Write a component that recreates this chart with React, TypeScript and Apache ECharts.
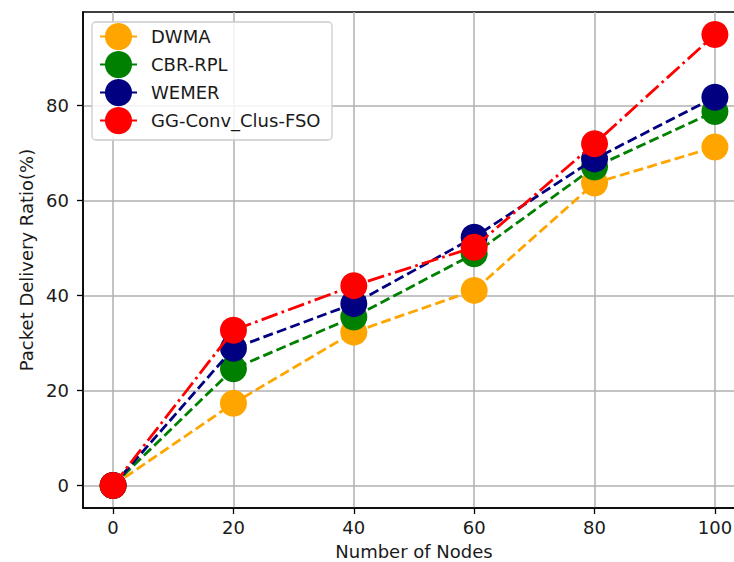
import React, { useEffect, useRef } from "react";
import * as echarts from "echarts";

const nodes = [0, 20, 40, 60, 80, 100];
const seriesNames = ["DWMA", "CBR-RPL", "WEMER", "GG-Conv_Clus-FSO"];
const dwma = [0, 17.3, 32.3, 41.1, 63.7, 71.3];
const cbrRpl = [0, 24.6, 35.5, 48.8, 67.1, 78.8];
const wemer = [0, 28.9, 38.3, 52.3, 68.8, 81.8];
const ggConv = [0, 32.7, 42.1, 50.2, 72, 95];
const xTicks = [0, 20, 40, 60, 80, 100];
const yTicks = [0, 20, 40, 60, 80];

const colors = ["#FFA500", "#008000", "#000080", "#FF0000"];
const FONT = "DejaVu Sans";

export default function App() {
  const ref = useRef<HTMLDivElement>(null);
  useEffect(() => {
    if (!ref.current) return;
    const chart = echarts.init(ref.current, null, { renderer: "svg" });
    const values = [dwma, cbrRpl, wemer, ggConv];
    const dash = [10, 4.3];
    const dashDot = [17, 4.3, 2.7, 4.3];
    const series = seriesNames.map((name, i) => ({
      name,
      type: "line",
      data: nodes.map((n, j) => [n, values[i][j]]),
      symbol: "circle",
      symbolSize: 27,
      itemStyle: { color: colors[i] },
      lineStyle: { color: colors[i], width: 2.8, type: i === 3 ? dashDot : dash },
      z: 2 + i * 0.01,
    }));
    chart.setOption({
      animation: false,
      backgroundColor: "#ffffff",
      textStyle: { fontFamily: FONT },
      grid: {
        left: 83,
        top: 12,
        right: 15,
        bottom: 54,
        outerBoundsMode: "none",
        containLabel: false,
        show: true,
        borderColor: "#000",
        borderWidth: 1.5,
        backgroundColor: "transparent",
      },
      xAxis: {
        type: "value",
        min: -5,
        max: 105,
        name: "Number of Nodes",
        nameLocation: "middle",
        nameGap: 34,
        nameTextStyle: { fontSize: 18, color: "#1a1a1a", fontFamily: FONT },
        axisLine: { show: true, onZero: false, lineStyle: { color: "#000", width: 1.5 } },
        axisTick: { show: true, inside: false, length: 6, customValues: xTicks, lineStyle: { color: "#000", width: 1.3 } },
        axisLabel: { customValues: xTicks, fontSize: 18, color: "#1a1a1a", margin: 10, fontFamily: FONT },
        splitLine: { show: true, customValues: xTicks, lineStyle: { color: "#b0b0b0", width: 1.5 } },
      },
      yAxis: {
        type: "value",
        min: -4.75,
        max: 99.75,
        name: "Packet Delivery Ratio(%)",
        nameLocation: "middle",
        nameGap: 47,
        nameTextStyle: { fontSize: 18, color: "#1a1a1a", fontFamily: FONT },
        axisLine: { show: true, onZero: false, lineStyle: { color: "#000", width: 1.5 } },
        axisTick: { show: true, inside: false, length: 6, customValues: yTicks, lineStyle: { color: "#000", width: 1.3 } },
        axisLabel: { customValues: yTicks, fontSize: 18, color: "#1a1a1a", margin: 14, fontFamily: FONT },
        splitLine: { show: true, customValues: yTicks, lineStyle: { color: "#b0b0b0", width: 1.5 } },
      },
      graphic: [
        {
          type: "rect",
          z: 3,
          shape: { x: 92, y: 22, width: 240, height: 118, r: 4 },
          style: { fill: "rgba(255,255,255,0.85)", stroke: "#cccccc", lineWidth: 1.3 },
        },
      ],
      legend: {
        show: true,
        orient: "vertical",
        left: 99,
        top: 23,
        padding: 0,
        itemWidth: 37,
        itemHeight: 34,
        itemGap: 0.8,
        z: 4,
        data: seriesNames,
        textStyle: { fontSize: 18, color: "#1a1a1a", fontFamily: FONT, padding: [0, 0, 0, 9] },
      },
      series,
    });
    return () => chart.dispose();
  }, []);
  return (
    <div style={{ position: "fixed", left: 0, top: 0, width: 734, height: 562, overflow: "hidden" }}>
      <div ref={ref} style={{ width: 760, height: 562 }} />
    </div>
  );
}
